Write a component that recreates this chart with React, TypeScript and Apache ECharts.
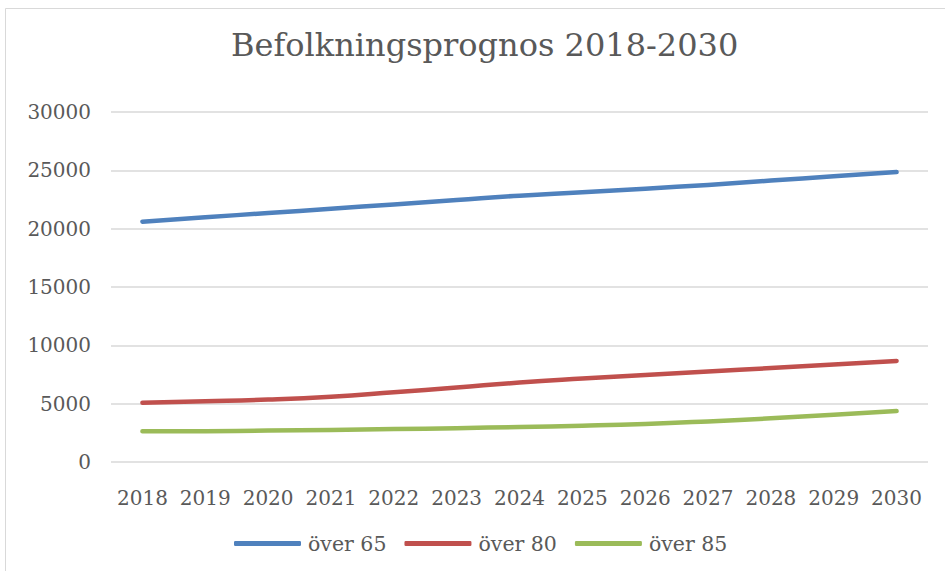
import React, { useEffect, useRef } from "react";
import * as echarts from "echarts";

const years = ["2018", "2019", "2020", "2021", "2022", "2023", "2024", "2025", "2026", "2027", "2028", "2029", "2030"];
const over65 = [20600, 20980, 21340, 21710, 22080, 22460, 22830, 23120, 23430, 23750, 24120, 24490, 24850];
const over80 = [5080, 5200, 5350, 5600, 5980, 6390, 6810, 7150, 7460, 7760, 8050, 8350, 8660];
const over85 = [2630, 2640, 2690, 2750, 2820, 2900, 3000, 3110, 3260, 3480, 3740, 4060, 4370];
const seriesNames = ["över 65", "över 80", "över 85"];
const colors = ["#4F81BD", "#C0504D", "#9BBB59"];
const titleText = "Befolkningsprognos 2018-2030";

const FONT = "DejaVu Serif";
const TEXT = "#595959";

export default function App() {
  const ref = useRef<HTMLDivElement>(null);
  useEffect(() => {
    document.body.style.margin = "0";
    const chart = echarts.init(ref.current!, null, { renderer: "svg" });
    const data = [over65, over80, over85];
    chart.setOption({
      animation: false,
      backgroundColor: "#ffffff",
      title: {
        text: titleText,
        left: 226,
        top: 24,
        textStyle: { fontFamily: FONT, fontSize: 32, fontWeight: "normal", color: TEXT },
      },
      graphic: [
        {
          type: "rect",
          shape: { x: 5.5, y: 8.5, width: 960, height: 600 },
          style: { fill: "none", stroke: "#D9D9D9", lineWidth: 1 },
          silent: true,
        },
      ],
      legend: {
        bottom: 12,
        left: 229,
        itemWidth: 67,
        itemHeight: 5,
        itemGap: 18,
        icon: "roundRect",
        textStyle: { fontFamily: FONT, fontSize: 20.5, color: TEXT, padding: [0, 0, 0, 2] },
        data: seriesNames,
      },
      grid: { left: 111, right: 17, top: 112, bottom: 109 },
      xAxis: {
        type: "category",
        data: years,
        boundaryGap: true,
        axisLine: { show: false },
        axisTick: { show: false },
        axisLabel: { fontFamily: FONT, fontSize: 20, color: TEXT, margin: 26, interval: 0 },
      },
      yAxis: {
        type: "value",
        min: 0,
        max: 30000,
        interval: 5000,
        axisLine: { show: false },
        axisTick: { show: false },
        splitLine: { lineStyle: { color: "#D9D9D9", width: 1.5 } },
        axisLabel: { fontFamily: FONT, fontSize: 20, color: TEXT, margin: 20, formatter: (v: number) => String(v) },
      },
      series: data.map((d, i) => ({
        name: seriesNames[i],
        type: "line",
        data: d,
        smooth: 0.5,
        symbol: "none",
        color: colors[i],
        lineStyle: { width: 4.5, color: colors[i], cap: "round", join: "round" },
      })),
    });
    return () => chart.dispose();
  }, []);
  return <div ref={ref} style={{ position: "fixed", left: 0, top: 0, width: 945, height: 571 }} />;
}
